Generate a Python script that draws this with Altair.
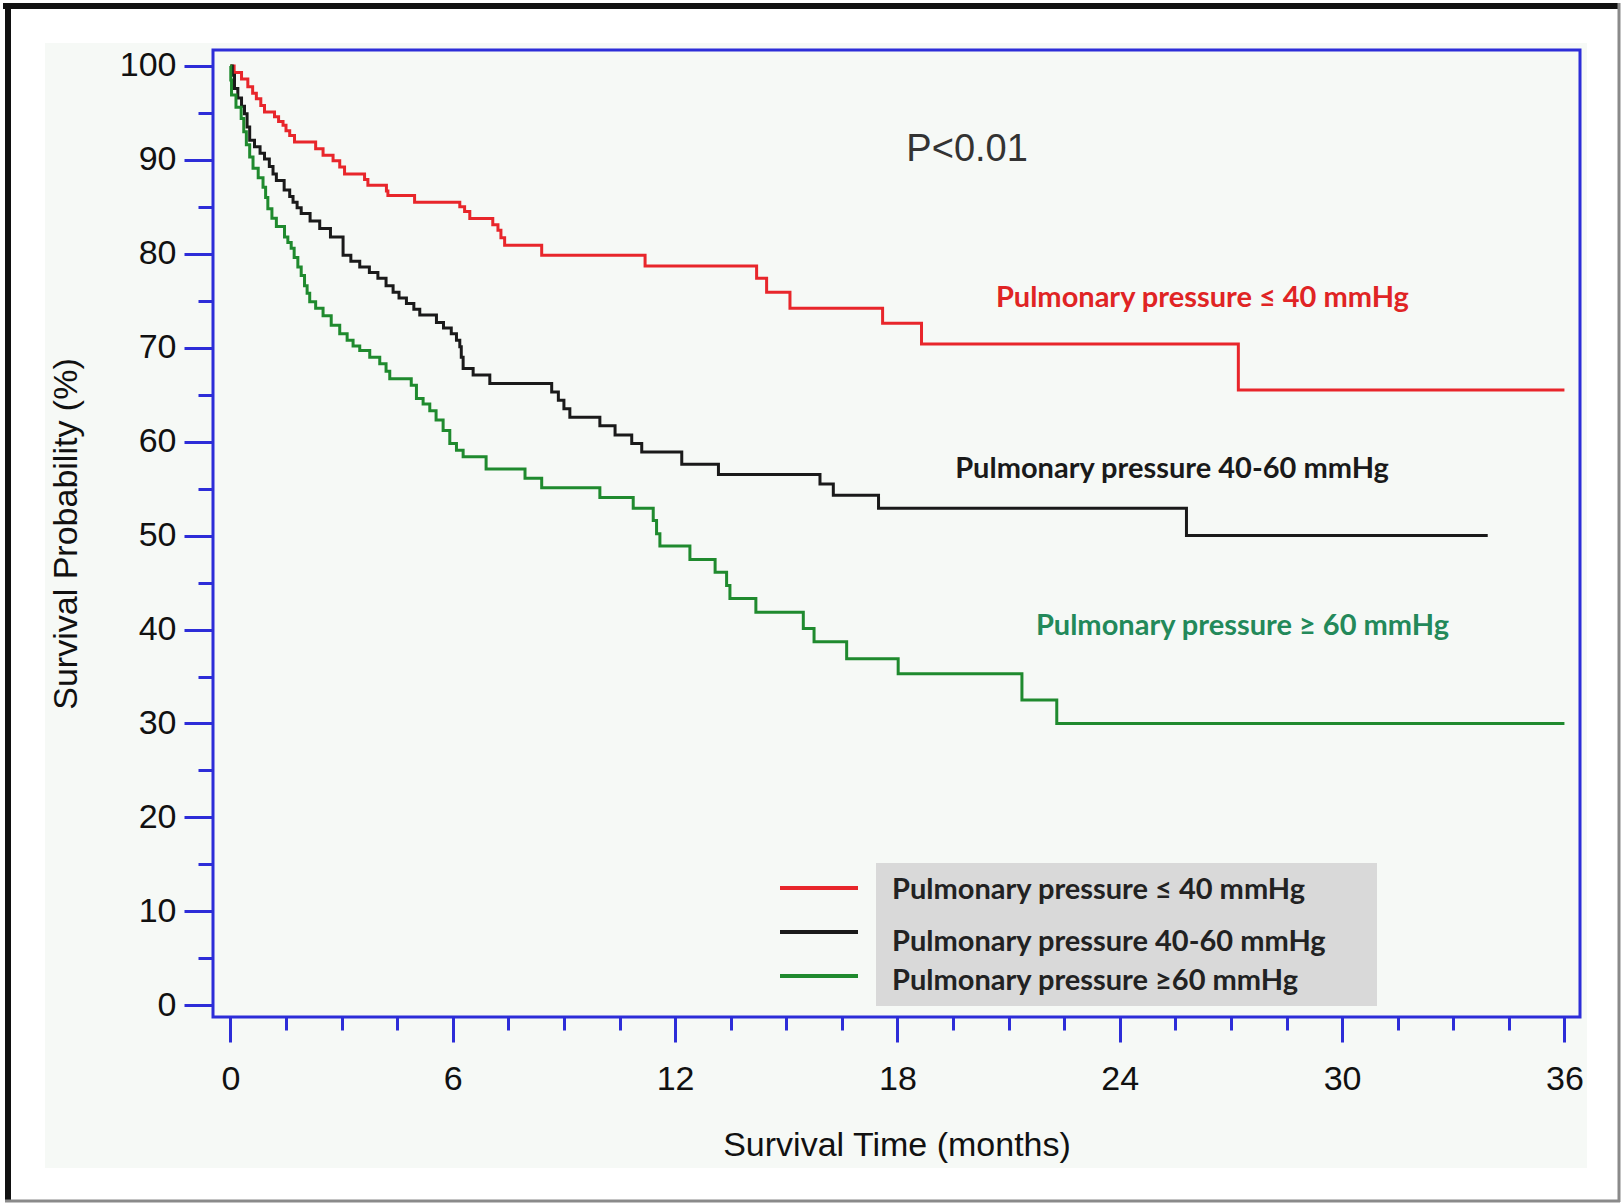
import altair as alt
import pandas as pd

# ---- series definitions -------------------------------------------------
series_names = [
    "Pulmonary pressure \u2264 40 mmHg",
    "Pulmonary pressure 40-60 mmHg",
    "Pulmonary pressure \u226560 mmHg",
]
line_colors = ["#e8262b", "#1a1a1a", "#1f8a2e"]

# Kaplan-Meier step points: time (months) where the survival (%) value starts
red_t = [0, 0.1, 0.3, 0.47, 0.6, 0.7, 0.82, 0.92, 1.19, 1.3, 1.42, 1.5, 1.6, 1.73,
         2.3, 2.5, 2.77, 2.95, 3.08, 3.62, 3.71, 4.21, 4.25, 4.97, 6.19, 6.32, 6.46,
         7.08, 7.22, 7.3, 7.4, 8.4, 11.19, 14.2, 14.47, 15.1, 17.6, 18.65, 27.2, 36.0]
red_s = [100, 99.3, 98.6, 97.8, 97.1, 96.5, 95.8, 95.1, 94.6, 94.1, 93.7, 93.1, 92.6, 91.9,
         91.2, 90.5, 89.9, 89.25, 88.5, 87.9, 87.3, 86.7, 86.2, 85.5, 85.0, 84.5, 83.75,
         83.1, 82.5, 81.7, 80.9, 79.85, 78.7, 77.4, 75.9, 74.2, 72.6, 70.4, 65.5, 65.5]

black_t = [0, 0.05, 0.11, 0.2, 0.3, 0.38, 0.45, 0.52, 0.65, 0.8, 0.92, 1.05, 1.15, 1.24,
           1.45, 1.6, 1.69, 1.8, 1.91, 2.15, 2.41, 2.7, 3.04, 3.25, 3.49, 3.75, 3.98,
           4.2, 4.39, 4.55, 4.75, 4.95, 5.11, 5.56, 5.75, 5.96, 6.1, 6.19, 6.23, 6.28,
           6.55, 7.0, 8.67, 8.85, 9.0, 9.16, 9.97, 10.38, 10.83, 11.1, 12.18, 13.17,
           15.91, 16.27, 17.49, 25.8, 33.93]
black_s = [100, 99.0, 97.6, 96.6, 95.7, 94.9, 93.5, 92.1, 91.4, 90.7, 90.1, 89.3, 88.5, 87.8,
           86.8, 86.1, 85.5, 84.9, 84.3, 83.5, 82.7, 81.8, 79.85, 79.2, 78.6, 78.0, 77.4,
           76.6, 75.9, 75.3, 74.7, 74.1, 73.5, 72.7, 72.1, 71.5, 70.8, 70.1, 69.0, 67.8,
           67.1, 66.2, 65.3, 64.4, 63.5, 62.6, 61.7, 60.7, 59.8, 58.9, 57.6, 56.5,
           55.5, 54.3, 52.9, 50.0, 50.0]

green_t = [0, 0.01, 0.03, 0.15, 0.29, 0.36, 0.43, 0.52, 0.61, 0.75, 0.88, 0.95, 1.01, 1.12,
           1.24, 1.46, 1.55, 1.64, 1.72, 1.82, 1.91, 2.0, 2.07, 2.14, 2.3, 2.5, 2.72, 2.95,
           3.15, 3.31, 3.49, 3.76, 4.03, 4.2, 4.3, 4.88, 5.02, 5.2, 5.38, 5.55, 5.74, 5.92,
           6.1, 6.28, 6.9, 7.95, 8.4, 9.97, 10.87, 11.41, 11.5, 11.59, 12.4, 13.08, 13.39,
           13.48, 14.18, 15.46, 15.75, 16.63, 18.02, 21.36, 22.3, 36.0]
green_s = [100, 98.5, 96.9, 95.6, 94.4, 93.0, 91.6, 90.3, 89.1, 88.1, 87.1, 86.0, 84.8, 83.8,
           82.9, 81.8, 81.2, 80.6, 79.6, 78.6, 77.7, 76.6, 75.8, 74.9, 74.2, 73.4, 72.4, 71.5,
           70.8, 70.2, 69.7, 69.0, 68.3, 67.5, 66.7, 66.0, 64.6, 64.0, 63.3, 62.3, 61.2, 59.8,
           59.1, 58.4, 57.1, 56.1, 55.1, 54.05, 52.9, 51.6, 50.2, 48.9, 47.45, 46.1, 44.7,
           43.3, 41.85, 40.1, 38.7, 36.9, 35.3, 32.5, 30.0, 30.0]

# curve annotations (placed in data units)
note_text = ["Pulmonary pressure \u2264 40 mmHg", "Pulmonary pressure 40-60 mmHg",
             "Pulmonary pressure \u2265 60 mmHg"]
note_t = [26.23, 25.41, 27.31]
note_s = [75.3, 57.06, 40.35]
note_colors = ["#e02424", "#1a1a1a", "#23895a"]

p_text = ["P<0.01"]
p_t = [19.88]
p_s = [91.1]

x_tick_values = [i * 1.5 for i in range(25)]
y_tick_values = [i * 5 for i in range(21)]

# ---- build tables -------------------------------------------------------
rows = []
for name, ts, ss in zip(series_names, [red_t, black_t, green_t], [red_s, black_s, green_s]):
    for i, (t, s) in enumerate(zip(ts, ss)):
        rows.append({"group": name, "t": t, "s": s, "i": i})
curves = pd.DataFrame(rows)
notes = pd.DataFrame({"label": note_text, "t": note_t, "s": note_s})
pval = pd.DataFrame({"label": p_text, "t": p_t, "s": p_s})
one = pd.DataFrame({"k": [0]})

W, H = 1367, 967
AXIS_BLUE = "#2d2dd8"
LABEL_FONT = "Liberation Sans"
ANNOT_FONT = "Lato"

xscale = alt.Scale(domain=[-0.47, 36.42], nice=False, zero=False)
yscale = alt.Scale(domain=[-1.25, 101.7], nice=False, zero=False)

x_axis = alt.Axis(
    values=x_tick_values,
    labelExpr="datum.value % 6 === 0 ? datum.label : ''",
    tickSize={"condition": {"test": "datum.value % 6 === 0", "value": 25}, "value": 13},
    tickColor=AXIS_BLUE, tickWidth=3, domain=False, grid=False,
    labelFont=LABEL_FONT, labelFontSize=34, labelColor="#111111", labelPadding=20,
    labelFlush=False, labelOverlap=False,
    title="Survival Time (months)", titleFont=LABEL_FONT, titleFontSize=34,
    titleFontWeight="normal", titleColor="#111111", titlePadding=32, zindex=1,
)
y_axis = alt.Axis(
    values=y_tick_values,
    labelExpr="datum.value % 10 === 0 ? datum.label : ''",
    tickSize={"condition": {"test": "datum.value % 10 === 0", "value": 29}, "value": 15},
    tickColor=AXIS_BLUE, tickWidth=3, domain=False, grid=False,
    labelFont=LABEL_FONT, labelFontSize=34, labelColor="#111111", labelPadding=8,
    labelFlush=False, labelOverlap=False,
    title="Survival Probability (%)", titleFont=LABEL_FONT, titleFontSize=34,
    titleFontWeight="normal", titleColor="#111111", titlePadding=36, zindex=1,
)

# ---- decorative background --------------------------------------------
panel = alt.Chart(one).mark_rect(fill="#f6f9f6").encode(
    x=alt.value(-168), x2=alt.value(1374), y=alt.value(-7), y2=alt.value(1118))

frame_top = alt.Chart(one).mark_rule(color="#111111", strokeWidth=6).encode(
    x=alt.value(-210), x2=alt.value(1407), y=alt.value(-44))
frame_left = alt.Chart(one).mark_rule(color="#111111", strokeWidth=6).encode(
    x=alt.value(-205), y=alt.value(-47), y2=alt.value(1152))
frame_right = alt.Chart(one).mark_rule(color="#8a8a8a", strokeWidth=3).encode(
    x=alt.value(1406), y=alt.value(-47), y2=alt.value(1152))
frame_bottom = alt.Chart(one).mark_rule(color="#8a8a8a", strokeWidth=3).encode(
    x=alt.value(-208), x2=alt.value(1407), y=alt.value(1151))

plot_box = alt.Chart(one).mark_rect(fill=None, stroke=AXIS_BLUE, strokeWidth=3).encode(
    x=alt.value(0), x2=alt.value(W), y=alt.value(0), y2=alt.value(H))

# ---- legend (drawn inside the plot) ------------------------------------
legend_line_y = [838, 882, 926]
legend_text_y = [840, 892, 931]

legend_layers = [
    alt.Chart(one).mark_rect(fill="#d9d9d9").encode(
        x=alt.value(663), x2=alt.value(1164), y=alt.value(813), y2=alt.value(956))
]
for name, color, ly, ty in zip(series_names, line_colors, legend_line_y, legend_text_y):
    legend_layers.append(
        alt.Chart(one).mark_rule(strokeWidth=4, color=color).encode(
            x=alt.value(567), x2=alt.value(645), y=alt.value(ly))
    )
    legend_layers.append(
        alt.Chart(one).mark_text(
            align="left", baseline="middle", font=ANNOT_FONT, fontWeight="bold",
            fontSize=29, color="#222222", text=name,
        ).encode(x=alt.value(679), y=alt.value(ty))
    )

# ---- survival curves ---------------------------------------------------
lines = alt.Chart(curves).mark_line(interpolate="step-after", strokeWidth=3).encode(
    x=alt.X("t:Q", scale=xscale, axis=x_axis),
    y=alt.Y("s:Q", scale=yscale, axis=y_axis),
    color=alt.Color("group:N", scale=alt.Scale(domain=series_names, range=line_colors), legend=None),
    order=alt.Order("i:Q"),
)

note_marks = alt.Chart(notes).mark_text(
    align="center", baseline="middle", font=ANNOT_FONT, fontWeight="bold", fontSize=29,
).encode(
    x=alt.X("t:Q", scale=xscale, axis=x_axis),
    y=alt.Y("s:Q", scale=yscale, axis=y_axis),
    text="label:N",
    color=alt.Color("label:N", scale=alt.Scale(domain=note_text, range=note_colors), legend=None),
)

p_mark = alt.Chart(pval).mark_text(
    align="center", baseline="middle", font=LABEL_FONT, fontSize=38, color="#333333",
).encode(
    x=alt.X("t:Q", scale=xscale, axis=x_axis),
    y=alt.Y("s:Q", scale=yscale, axis=y_axis),
    text="label:N",
)

chart = alt.layer(
    panel, frame_top, frame_left, frame_right, frame_bottom,
    *legend_layers,
    lines, note_marks, p_mark, plot_box,
).resolve_scale(
    color="independent"
).properties(
    width=W, height=H,
    autosize=alt.AutoSizeParams(type="none"),
    padding={"left": 213, "top": 50, "right": 43, "bottom": 186},
    background="#ffffff",
).configure_view(strokeWidth=0)

chart.save("out.html", embed_options={"renderer": "svg", "actions": False})
